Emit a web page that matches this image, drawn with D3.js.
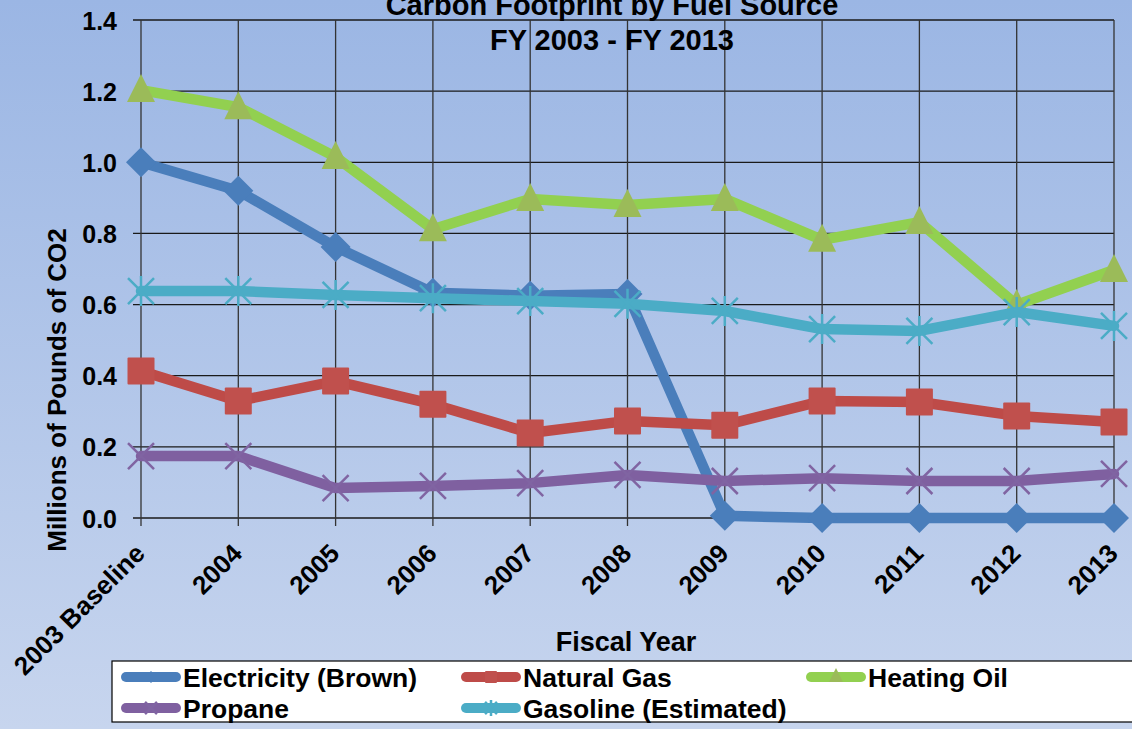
<!DOCTYPE html>
<html>
<head>
<meta charset="utf-8">
<script src="https://cdn.jsdelivr.net/npm/d3@7"></script>
<style>
  html, body { margin: 0; padding: 0; }
  body { width: 1132px; height: 729px; overflow: hidden; }
  text { font-family: "Liberation Sans", Arial, sans-serif; font-weight: bold; fill: #000; }
</style>
</head>
<body>
<svg id="chart" width="1132" height="729"></svg>
<script>
const categories = ["2003 Baseline", "2004", "2005", "2006", "2007", "2008", "2009", "2010", "2011", "2012", "2013"];
const electricity = [1.0, 0.92, 0.762, 0.633, 0.625, 0.63, 0.006, 0.0, 0.0, 0.0, 0.0];
const naturalGas = [0.413, 0.329, 0.385, 0.32, 0.239, 0.273, 0.261, 0.329, 0.326, 0.287, 0.27];
const heatingOil = [1.203, 1.155, 1.015, 0.812, 0.897, 0.88, 0.897, 0.782, 0.832, 0.599, 0.697];
const propane = [0.174, 0.174, 0.084, 0.09, 0.098, 0.121, 0.104, 0.112, 0.104, 0.104, 0.124];
const gasoline = [0.638, 0.638, 0.627, 0.618, 0.61, 0.602, 0.582, 0.531, 0.526, 0.579, 0.54];
const yTicks = [0, 0.2, 0.4, 0.6, 0.8, 1.0, 1.2, 1.4];

const series = [
  { name: "Electricity (Brown)", values: electricity, line: "#4A7EBB", marker: "diamond", mcolor: "#4A7EBB" },
  { name: "Natural Gas", values: naturalGas, line: "#BE4B48", marker: "square", mcolor: "#C0504D" },
  { name: "Heating Oil", values: heatingOil, line: "#92D050", marker: "triangle", mcolor: "#9BBB59" },
  { name: "Propane", values: propane, line: "#7F60A0", marker: "x", mcolor: "#8064A2" },
  { name: "Gasoline (Estimated)", values: gasoline, line: "#4BACC6", marker: "star", mcolor: "#4BACC6" }
];

(function () {
const svg = d3.select("#chart");
const W = 1132, H = 729;
const FF = "Liberation Sans, Arial, sans-serif";

const defs = svg.append("defs");
const grad = defs.append("linearGradient").attr("id", "bg").attr("x1", 0).attr("y1", 0).attr("x2", 0).attr("y2", 1);
grad.append("stop").attr("offset", "0%").attr("stop-color", "#9BB6E4");
grad.append("stop").attr("offset", "100%").attr("stop-color", "#C7D5EE");
svg.append("rect").attr("width", W).attr("height", H).attr("fill", "url(#bg)");

const pLeft = 141, pRight = 1114, pTop = 20, pBottom = 518;
const x = d3.scalePoint().domain(categories).range([pLeft, pRight]);
const y = d3.scaleLinear().domain([0, 1.4]).range([pBottom, pTop]);

const grid = svg.append("g");
grid.selectAll("line.h").data(yTicks).join("line")
  .attr("x1", pLeft - 8).attr("x2", pRight)
  .attr("y1", d => y(d)).attr("y2", d => y(d))
  .attr("stroke", "#1a1a1a").attr("stroke-width", 1.3);
grid.selectAll("line.v").data(categories).join("line")
  .attr("x1", d => x(d)).attr("x2", d => x(d))
  .attr("y1", pTop).attr("y2", pBottom + 8)
  .attr("stroke", "#333").attr("stroke-width", 1.3);

const yAxis = d3.axisLeft(y).tickValues(yTicks).tickFormat(d3.format(".1f")).tickSize(0).tickPadding(24);
const yg = svg.append("g").attr("transform", `translate(${pLeft},0)`).call(yAxis);
yg.select(".domain").remove();
yg.selectAll("text").attr("font-size", 25).attr("font-family", FF).attr("font-weight", "bold").attr("fill", "#000").attr("dy", "0.36em");

const xAxis = d3.axisBottom(x).tickSize(0).tickPadding(0);
const xg = svg.append("g").attr("transform", `translate(0,${pBottom})`).call(xAxis);
xg.select(".domain").remove();
xg.selectAll("text")
  .attr("font-size", 26).attr("font-family", FF).attr("font-weight", "bold").attr("fill", "#000")
  .attr("text-anchor", "end")
  .attr("transform", "translate(5,37) rotate(-45)")
  .attr("dy", 0).attr("y", 0).attr("x", 0);

svg.append("text").attr("x", 612).attr("y", 15).attr("text-anchor", "middle").attr("font-size", 29).text("Carbon Footprint by Fuel Source");
svg.append("text").attr("x", 612).attr("y", 50).attr("text-anchor", "middle").attr("font-size", 29).text("FY 2003 - FY 2013");
svg.append("text").attr("x", 626).attr("y", 651).attr("text-anchor", "middle").attr("font-size", 27).text("Fiscal Year");
svg.append("text").attr("transform", "translate(66,390) rotate(-90)").attr("text-anchor", "middle").attr("font-size", 26).text("Millions of Pounds of CO2");

function drawMarker(g, type, color, s) {
  const h = s / 2;
  if (type === "diamond") {
    g.append("path").attr("d", `M0,${-h}L${h},0L0,${h}L${-h},0Z`).attr("fill", color);
  } else if (type === "square") {
    g.append("rect").attr("x", -h).attr("y", -h).attr("width", s).attr("height", s).attr("fill", color).attr("rx", 1);
  } else if (type === "triangle") {
    g.append("path").attr("d", `M0,${-h - 2}L${h},${h - 2}L${-h},${h - 2}Z`).attr("fill", color);
  } else if (type === "x") {
    g.append("path").attr("d", `M${-h},${-h}L${h},${h}M${h},${-h}L${-h},${h}`).attr("stroke", color).attr("stroke-width", 2.5).attr("fill", "none");
  } else if (type === "star") {
    g.append("path").attr("d", `M${-h},${-h}L${h},${h}M${h},${-h}L${-h},${h}M0,${-h - 2}L0,${h + 2}`).attr("stroke", color).attr("stroke-width", 2.5).attr("fill", "none");
  }
}

const lineGen = d3.line().x((d, i) => x(categories[i])).y(d => y(d));
const sizes = { diamond: 30, square: 27, triangle: 28, x: 26, star: 26 };
series.forEach(s => {
  const g = svg.append("g");
  g.append("path").attr("d", lineGen(s.values)).attr("fill", "none").attr("stroke", s.line)
    .attr("stroke-width", 10.5).attr("stroke-linejoin", "round").attr("stroke-linecap", "round");
  s.values.forEach((v, i) => {
    const mg = g.append("g").attr("transform", `translate(${x(categories[i])},${y(v)})`);
    drawMarker(mg, s.marker, s.mcolor, sizes[s.marker]);
  });
});

const legend = svg.append("g");
legend.append("rect").attr("x", 112).attr("y", 661).attr("width", 1040).attr("height", 61)
  .attr("fill", "#fff").attr("stroke", "#000").attr("stroke-width", 1.2);
const legendPos = [
  { x: 121, y: 677 }, { x: 461, y: 677 }, { x: 806, y: 677 },
  { x: 121, y: 708 }, { x: 461, y: 708 }
];
series.forEach((s, i) => {
  const p = legendPos[i];
  const g = legend.append("g").attr("transform", `translate(${p.x},${p.y})`);
  g.append("line").attr("x1", 5).attr("x2", 55).attr("y1", 0).attr("y2", 0)
    .attr("stroke", s.line).attr("stroke-width", 10).attr("stroke-linecap", "round");
  const mg = g.append("g").attr("transform", "translate(30,0)");
  drawMarker(mg, s.marker, s.mcolor, s.marker === "triangle" ? 14 : 12);
  g.append("text").attr("x", 62).attr("y", 0).attr("dy", "0.36em").attr("font-size", 26.5).text(s.name);
});
})();
</script>
</body>
</html>
